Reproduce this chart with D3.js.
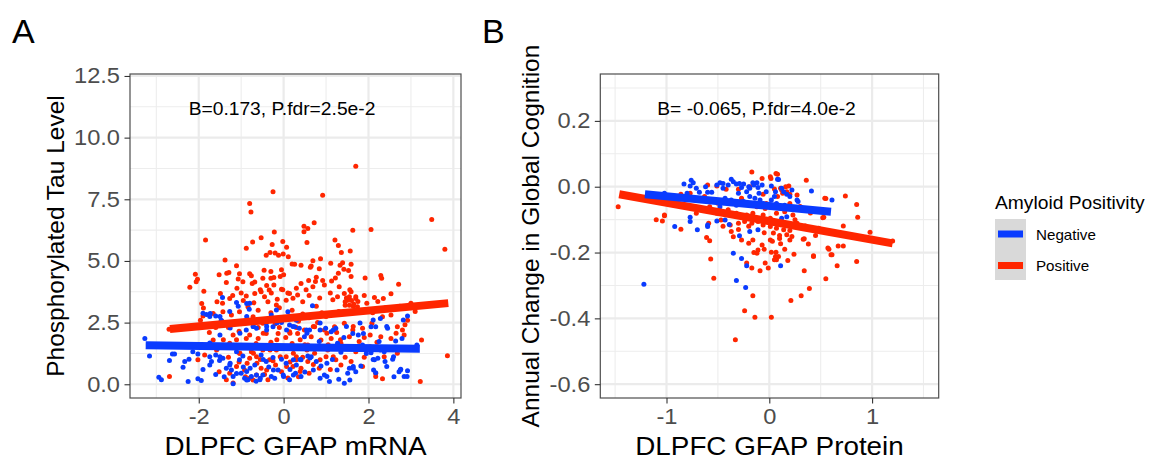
<!DOCTYPE html>
<html>
<head>
<meta charset="utf-8">
<script src="https://cdn.jsdelivr.net/npm/d3@7"></script>
<style>
body { margin: 0; background: #fff; }
text { font-family: "Liberation Sans", Arial, sans-serif; }
</style>
</head>
<body>
<div id="chart-area"></div>
<script>
// ---- data ----
var groups = ["Negative", "Positive"];

// Panel A: DLPFC GFAP mRNA vs phosphorylated tau
var aNegative = [
	[-3.27,1.86],[-3.16,1.15],[-2.94,0.28],[-2.88,0.18],[-2.69,0.96],[-2.62,1.23],[-2.57,1.23],[-2.37,0.69],[-2.33,0.92],[-2.23,1.01],
	[-2.25,0.11],[-2.14,1.32],[-2.02,1.23],[-2.02,0.22],[-1.94,0.15],[-1.74,1.12],[-1.74,0.78],[-1.82,2.83],[-1.73,2.87],[-1.6,2.77],
	[-1.47,2.6],[-1.33,2.5],[-1.27,2.4],[-1.7,0.92],[-1.6,1.19],[-1.51,0.96],[-1.43,1.05],[-1.35,0.65],[-1.27,0.78],[-1.23,0.58],
	[-1.19,0.31],[-1.04,0.99],[-1.0,0.45],[-0.92,0.24],[-0.84,0.18],[-0.76,0.31],[-0.68,0.78],[-0.56,0.18],[-0.49,0.38],[-0.41,0.92],
	[-0.29,0.31],[-0.21,0.24],[-0.13,0.58],[-0.01,0.38],[0.14,0.18],[0.28,0.45],[-0.96,1.15],[-1.11,1.32],[-1.35,1.52],[-1.55,1.46],
	[-0.53,1.19],[-0.25,1.09],[-0.05,1.01],[0.06,0.85],[-0.88,2.2],[-0.64,2.27],[-0.41,2.47],[-0.25,2.33],[-0.05,2.5],[0.14,2.4],
	[0.3,2.6],[-0.29,2.81],[-0.17,3.01],[0.1,2.94],[-0.8,3.28],[-0.81,3.04],[0.41,0.31],[0.65,1.12],[0.77,0.92],[0.96,0.38],
	[1.08,0.11],[1.43,0.04],[1.51,0.45],[1.55,0.65],[1.7,0.51],[1.82,0.74],[2.14,0.99],[2.22,1.05],[2.12,0.58],[2.17,0.47],
	[2.39,0.92],[2.57,1.01],[2.72,0.51],[2.76,0.61],[2.84,0.31],[2.92,0.55],[3.14,1.59],[2.92,2.77],[2.79,1.86],[2.64,1.75],
	[2.45,2.27],[2.28,2.67],[2.17,2.33],[2.06,2.33],[1.88,2.06],[1.76,2.0],[1.63,2.06],[1.42,1.9],[1.23,2.27],[1.12,2.13],
	[0.99,2.27],[0.61,2.2],[0.49,1.93],[0.37,2.27],[0.26,2.33],[0.84,1.73],[1.27,1.66],[1.86,1.59],[2.25,1.73],[2.06,1.28],
	[2.37,1.32],[0.88,0.74],[0.57,1.15],[0.41,0.99],[0.3,0.78],[0.68,3.18],[-1.44,3.52],[-1.11,3.32],[-0.87,3.27],[-1.5,2.0],
	[-1.26,2.28],[-1.03,2.07],[-0.71,2.34],[-0.4,2.2],[0.55,2.07],[0.86,2.2],[0.23,0.99],[0.62,1.06],[1.02,0.85],[1.26,0.58],
	[1.64,0.65],[-0.87,0.52],[-0.55,0.24],[0.23,0.38],[0.86,0.24],[1.56,0.17],[-1.19,0.02],[-0.65,0.12],[1.3,0.2],[2.6,0.3],
	[-1.74,1.67],[-1.5,1.12],[-1.26,0.85],[-1.11,0.44],[-0.87,0.17],[-0.64,0.38],[-0.79,0.65],[-0.48,1.0],[-0.24,0.58],[0.0,0.31],
	[0.39,1.0],[0.7,0.58],[1.02,0.31],[1.64,0.72],[2.11,1.0],[2.43,0.72],[2.75,0.58],[2.91,0.31],[2.59,1.12],[2.28,1.39],
	[-1.9,2.88],[-1.74,2.75],[-1.5,2.75],[-1.27,2.95],[-1.07,3.16],[-0.87,2.75],[-0.72,2.34],[-0.56,2.61],[-0.4,2.34],[-0.16,2.48],
	[0.07,2.2],[0.22,2.34],[0.54,2.2],[0.86,2.48],[1.17,2.2],[1.48,2.34],[1.8,2.48],[2.11,2.61],[2.43,2.34],[2.82,2.61],
	[-1.9,0.6],[-1.6,0.4],[-1.4,0.3],[-0.95,0.7],[-0.35,0.7],[0.15,0.6],[0.5,0.5],[1.15,1.0],[1.35,1.3],[1.95,1.25]
];
var aPositive = [
	[-0.25,7.81],[-0.8,7.33],[-0.77,6.98],[-1.84,5.85],[-0.22,6.17],[-0.53,5.94],[-0.73,5.77],[-0.88,5.51],[-0.27,5.67],[-0.02,5.79],
	[0.07,5.56],[-0.41,5.23],[-0.32,5.34],[-0.2,5.32],[-0.12,5.23],[-0.01,5.28],[0.11,5.17],[0.2,4.88],[-1.38,5.04],[-1.11,4.81],
	[-2.08,4.46],[-2.03,4.26],[-1.52,4.44],[-1.34,4.5],[-1.29,4.53],[-1.04,4.48],[-1.07,4.27],[-0.8,4.48],[-0.76,4.4],[-0.46,4.62],
	[-0.49,4.3],[-0.3,4.57],[-0.3,4.3],[-0.23,4.33],[-0.08,4.37],[0.0,4.44],[-0.05,4.64],[-1.35,4.13],[-0.68,4.15],
	[1.7,8.84],[0.92,7.66],[3.49,6.68],[3.8,5.47],[2.06,6.28],[1.63,6.24],[0.48,6.41],[0.57,6.32],[0.48,6.18],[0.72,6.55],
	[0.55,5.75],[1.21,5.85],[1.29,5.63],[1.36,5.34],[1.57,5.4],[0.69,5.01],[0.87,5.09],[0.65,4.8],[0.63,4.74],[0.84,4.68],
	[0.41,4.83],[0.26,4.87],[1.11,4.91],[1.33,4.83],[1.39,4.93],[1.42,4.66],[1.59,4.87],[1.53,4.61],[1.29,4.5],[1.59,4.37],
	[1.22,4.31],[1.92,4.31],[2.29,4.41],[2.31,4.3],[0.59,4.21],[0.77,4.34],[0.75,4.17],[0.92,4.21],[1.13,4.19],[2.71,4.06],
	[-2.21,3.93],[-2.06,4.16],[-1.49,3.68],[-1.57,3.35],[-1.44,3.28],[-1.27,3.48],[-1.1,3.89],[-0.96,4.16],[-0.88,3.58],[-0.74,4.09],
	[-0.68,3.68],[-0.53,3.75],[-0.34,3.82],[-0.23,4.02],[-0.05,3.85],[0.14,3.68],[0.3,3.89],[-0.37,3.35],[-0.17,3.21],[0.06,3.41],
	[-0.84,3.14],[-1.04,2.94],[-1.23,2.81],[-1.43,2.94],[-1.66,2.87],[-1.9,2.77],[-1.96,2.6],[-1.99,2.4],[-2.7,2.23],[-2.69,0.31],
	[-2.02,0.99],[-1.86,1.19],[-1.52,0.51],[-1.35,0.18],[-1.27,0.45],[-1.11,0.72],[-0.92,0.58],[-0.86,0.85],[-0.8,0.24],[-0.64,0.38],
	[-0.53,0.65],[-0.37,0.18],[-0.33,0.99],[-0.19,0.78],[-0.05,0.51],[0.06,1.12],[0.22,0.72],[0.3,0.99],[-1.04,1.26],[-0.76,1.32],
	[-0.64,1.12],[-0.49,1.39],[-0.17,1.39],[-0.01,1.52],[-1.51,1.52],[-1.27,1.66],[-0.88,1.86],[-0.6,1.86],[-0.41,2.06],[-0.13,2.06],
	[0.14,2.13],[-1.19,2.0],[-1.66,1.79],[-0.49,2.47],[-0.05,2.6],[-0.72,2.74],[0.33,3.62],[0.41,4.09],[0.69,3.95],[0.96,4.02],
	[1.31,3.95],[1.43,3.68],[1.59,3.75],[1.7,3.48],[1.51,3.41],[1.27,3.55],[2.35,3.48],[2.14,3.52],[1.96,3.28],[1.74,3.14],
	[2.53,2.81],[3.0,3.28],[2.92,2.6],[2.68,2.33],[2.33,2.74],[2.08,2.47],[1.86,2.27],[1.63,2.2],[1.43,2.47],[1.2,2.33],
	[0.96,2.2],[0.73,2.33],[0.49,2.2],[0.33,2.06],[0.65,1.93],[0.88,1.79],[1.12,1.86],[1.35,1.66],[1.55,1.93],[1.78,1.73],
	[2.04,2.0],[2.29,1.93],[2.53,1.86],[2.8,2.2],[2.84,2.0],[3.25,1.79],[3.86,1.16],[3.22,0.11],[2.33,0.22],[2.17,0.31],
	[2.17,0.45],[1.23,0.99],[1.35,0.78],[1.59,0.92],[1.86,0.72],[1.0,1.12],[0.73,1.26],[0.57,0.92],[0.41,0.65],[0.3,1.12],
	[0.84,0.65],[1.04,1.39],[1.7,1.32],[2.04,1.52],[2.37,1.12],[2.68,1.26],[0.57,1.59],[2.53,3.67],[2.22,3.36],[2.74,3.16],
	[3.1,2.95],[2.86,2.41],[2.65,2.07],[-0.55,3.83],[-0.29,3.7],[-0.02,3.83],[0.22,3.49],[0.53,3.83],[0.77,3.16],[1.16,3.43],
	[1.56,3.83],[1.64,3.16],[1.48,3.5],[1.75,3.36],[-0.48,2.07],[-0.16,1.8],[0.15,2.07],[0.39,1.8],[0.7,2.34],[1.02,2.07],
	[1.34,1.8],[1.64,2.34],[-0.08,1.12],[0.23,1.26],[0.55,1.39],[0.86,0.99],[1.17,1.12],[-0.32,1.39],[-0.71,1.26],[-0.63,0.85],
	[-0.4,0.58],[0.07,0.72],[0.39,0.52],[-1.11,1.8],[-0.87,1.53],[-1.03,1.26],[-1.42,1.8],[-1.58,1.39],[-1.19,0.05],[-0.72,0.17],
	[0.35,0.3],[-1.93,3.27],[-1.89,3.09],[-1.88,3.77],[-0.6,3.0],[-0.3,2.9],[-0.1,3.1],[0.2,3.0],[0.45,2.85],[-0.9,2.55],
	[-0.2,2.45],[0.35,2.55],[0.6,2.7],[1.0,2.75],[1.3,2.95],[1.8,2.95],[2.1,2.9],
	[-1.2,3.6],[-0.95,3.4],[-0.7,3.3],[-0.45,3.55],[-0.15,3.45],[0.1,3.7],[0.45,3.35],[0.85,3.5],[1.1,3.7],[1.45,3.2],
	[1.9,3.6],[2.4,3.1],[-1.3,2.3],[-1.05,2.15],[-0.8,2.0],[-0.6,2.3],[-0.35,2.6],[-0.1,2.3],[0.05,1.9],[0.3,2.3],
	[0.5,1.6],[0.8,2.5],[1.05,1.6],[1.25,2.1],[1.5,1.5],[1.9,1.9],[2.2,1.7],[-1.3,1.1],[-1.05,0.9],[-0.8,1.05],
	[-0.55,1.0],[-0.25,0.95],[0.15,0.9],[0.45,1.1],[0.7,0.8],[1.1,0.6],[1.45,1.1],[1.9,1.1],[-0.9,0.3],[-0.45,0.4],
	[0.1,0.25],[0.6,0.45],[-1.6,2.3],[-1.75,2.1],[-1.45,2.55],[1.55,3.55],[1.6,3.4],[1.65,3.25],[1.55,3.2],[1.7,3.55],
	[1.45,3.35],[-0.65,1.65],[-0.3,1.7],[0.2,1.65],[0.75,1.5],[1.2,1.45],[-1.0,3.7],[-0.4,4.0],[0.6,3.6],[0.9,2.9]
];
var aFitNegative = [[-3.25, 1.58], [3.21, 1.44]];
var aFitPositive = [[-2.68, 2.24], [3.88, 3.29]];

// Panel B: DLPFC GFAP protein vs annual change in global cognition
var bNegative = [
	[-0.83,0.008],[-0.76,0.02],[-0.74,0.012],[-0.77,0.002],[-0.71,-0.005],[-0.68,-0.017],[-0.6,-0.017],[-0.56,-0.017],[-0.51,0.005],[-0.48,0.012],
	[-0.45,-0.005],[-0.4,0.005],[-0.37,0.023],[-0.35,0.015],[-0.32,0.008],[-0.29,0.01],[-0.27,-0.002],[-0.25,0.008],[-0.22,-0.015],[-0.19,-0.005],
	[-0.16,0.012],[-0.15,0.005],[-0.12,0.012],[-0.11,-0.002],[-0.07,0.005],[-0.03,-0.015],[0.02,0.002],[0.06,-0.015],[0.09,0.022],[0.12,-0.005],
	[0.14,-0.015],[0.17,-0.023],[0.2,-0.03],[0.27,-0.04],[0.28,-0.045],[0.2,-0.061],[0.15,-0.056],[0.07,-0.051],[0.02,-0.04],[-0.06,-0.051],
	[-0.09,-0.04],[-0.14,-0.035],[-0.19,-0.03],[-0.25,-0.045],[-0.32,-0.056],[-0.37,-0.04],[-0.43,-0.035],[-0.48,-0.061],[-0.43,-0.101],[-0.51,-0.104],
	[-0.6,-0.116],[-0.6,-0.121],[-0.7,-0.131],[-0.77,-0.093],[-0.77,-0.106],[-0.92,-0.121],[-1.02,-0.02],[0.41,-0.013],[0.61,-0.04],[-0.29,-0.149],
	[-0.35,-0.202],[-0.27,-0.218],[-0.22,-0.24],[0.11,-0.24],[-0.32,-0.285],[-0.23,-0.306],[-1.22,-0.296],[-0.39,-0.115],[-0.19,-0.136],[-0.11,-0.131],
	[0.17,-0.091],[0.12,-0.096],[0.08,0.023],[-0.3,-0.02],[-0.2,0.0],[-0.45,0.01],[-0.55,-0.04],[-0.1,-0.02],[0.05,-0.03],[-0.62,0.0],
	[0.22,-0.01],[-0.8,-0.02]
];
var bPositive = [
	[-1.47,-0.061],[-0.86,-0.023],[-1.02,-0.086],[-1.04,-0.104],[-0.86,-0.129],[-0.61,-0.154],[-0.58,-0.164],[-0.57,-0.22],[-0.54,-0.278],[-0.33,-0.465],
	[-0.24,-0.377],[-0.14,-0.397],[0.02,-0.397],[-0.16,-0.331],[-0.04,-0.232],[-0.01,-0.247],[-0.09,-0.255],[-0.17,-0.247],[-0.22,-0.232],[0.21,-0.346],
	[0.31,-0.331],[0.39,-0.309],[0.34,-0.255],[0.24,-0.205],[0.18,-0.224],[0.06,-0.212],[0.07,-0.222],[0.02,-0.199],[-0.12,-0.202],[-0.11,-0.192],
	[-0.35,-0.152],[-0.27,-0.162],[-0.2,-0.172],[-0.16,-0.162],[-0.07,-0.177],[0.01,-0.162],[0.1,-0.157],[0.2,-0.162],[0.33,-0.16],[0.38,-0.174],
	[0.43,-0.212],[0.58,-0.19],[0.61,-0.207],[0.66,-0.24],[0.55,-0.28],[0.67,-0.18],[0.72,-0.18],[0.85,-0.227],[0.98,-0.138],[1.2,-0.165],
	[0.86,-0.093],[0.85,-0.054],[0.74,-0.028],[0.55,-0.036],[0.53,-0.093],[0.72,-0.119],[0.48,-0.126],[0.35,-0.119],[0.27,-0.111],[0.2,-0.133],
	[0.14,-0.131],[0.07,-0.126],[0.01,-0.121],[-0.06,-0.116],[-0.11,-0.106],[-0.17,-0.111],[-0.24,-0.106],[-0.3,-0.111],[-0.37,-0.136],[-0.38,-0.116],
	[-0.47,-0.101],[-0.51,-0.081],[-0.58,-0.061],[-0.63,-0.03],[-0.71,-0.038],[-0.77,-0.02],[-0.6,0.005],[-0.51,0.002],[-0.42,-0.008],[-0.3,-0.008],
	[-0.19,0.0],[-0.17,0.045],[-0.07,0.025],[0.01,0.03],[0.08,0.038],[0.12,-0.01],[0.19,0.002],[0.2,-0.023],[0.36,0.02],[0.08,-0.03],
	[-0.06,-0.023],[-0.04,-0.066],[0.07,-0.081],[0.15,-0.076],[0.23,-0.086],[0.2,-0.051],[0.27,-0.025],[-0.32,-0.081],[-0.22,-0.086],[-0.16,-0.081],
	[-0.06,-0.086],[0.01,-0.096],[-0.27,-0.035],[-0.22,-0.051],[-0.12,-0.061],[-0.03,-0.051],[-0.71,-0.081],[-0.59,-0.111],[0.065,0.04],[0.016,0.025],
	[0.16,0.0],[0.11,-0.005],[0.05,-0.007],[0.13,-0.02],[0.17,-0.015],[0.54,-0.035],[0.52,-0.094],[0.22,-0.151],[0.17,-0.146],[0.1,-0.148],
	[0.04,-0.141],[0.11,-0.173],[0.03,-0.166],[0.065,-0.199],[0.09,-0.212],[0.05,-0.222],[0.34,-0.158],[0.45,-0.148],[0.57,-0.186],[0.6,-0.207],
	[0.43,-0.21],[-1.02,-0.088],[-0.25,-0.09],[-0.1,-0.1],[0.05,-0.11],[-0.2,-0.12],[-0.05,-0.14],[0.12,-0.115],[-0.3,-0.13],[0.25,-0.1],
	[-0.15,-0.2],[-0.05,-0.19],[0.15,-0.19],[-0.45,-0.12],[-0.5,-0.05],[-0.4,-0.07],[0.3,-0.06],[0.4,-0.08],[-1.1,-0.1],[-0.95,-0.045]
];
var bFitNegative = [[-1.21, -0.023], [0.6, -0.076]];
var bFitPositive = [[-1.46, -0.023], [1.2, -0.172]];

// axis breaks
var aXTicks = [-2, 0, 2, 4], aXMinor = [-3, -1, 1, 3];
var aYTicks = [0, 2.5, 5, 7.5, 10, 12.5], aYMinor = [1.25, 3.75, 6.25, 8.75, 11.25];
var bXTicks = [-1, 0, 1], bXMinor = [-1.5, -0.5, 0.5, 1.5];
var bYTicks = [-0.6, -0.4, -0.2, 0, 0.2], bYMinor = [-0.5, -0.3, -0.1, 0.1, 0.3];

// ---- drawing ----
var width = 1150, height = 459;
var stretch = 1.1; // horizontal text stretch of the original figure
var color = d3.scaleOrdinal().domain(groups).range(["#0a3bff", "#ff2600"]);

var svg = d3.select("#chart-area")
	.append("svg")
	.attr("width", width)
	.attr("height", height);

function hText(parent, x, y, str, size, anchor, fill) {
	return parent.append("text")
		.attr("transform", "translate(" + x + "," + y + ") scale(" + stretch + ",1)")
		.attr("text-anchor", anchor)
		.attr("font-size", size + "px")
		.attr("fill", fill || "black")
		.text(str);
}

var panels = [
	{
		letter: "A", letterX: 12,
		left: 130, right: 461, top: 74, bottom: 398,
		xDomain: [-3.62, 4.18], yDomain: [-0.557, 12.58],
		xTicks: aXTicks, xMinor: aXMinor, yTicks: aYTicks, yMinor: aYMinor,
		neg: aNegative, pos: aPositive, negFit: aFitNegative, posFit: aFitPositive,
		note: "B=0.173, P.fdr=2.5e-2", noteX: 282,
		xTitle: "DLPFC GFAP mRNA", yTitle: "Phosphorylated Tau Level", yTitleX: 64
	},
	{
		letter: "B", letterX: 482,
		left: 600.3, right: 938.7, top: 74, bottom: 398,
		xDomain: [-1.644, 1.648], yDomain: [-0.642, 0.3425],
		xTicks: bXTicks, xMinor: bXMinor, yTicks: bYTicks, yMinor: bYMinor,
		neg: bNegative, pos: bPositive, negFit: bFitNegative, posFit: bFitPositive,
		note: "B= -0.065, P.fdr=4.0e-2", noteX: 756.5,
		xTitle: "DLPFC GFAP Protein", yTitle: "Annual Change in Global Cognition", yTitleX: 539
	}
];

panels.forEach(function (p) {
	var x = d3.scaleLinear().domain(p.xDomain).range([p.left, p.right]);
	var y = d3.scaleLinear().domain(p.yDomain).range([p.bottom, p.top]);
	var g = svg.append("g");

	g.append("rect")
		.attr("x", p.left).attr("y", p.top)
		.attr("width", p.right - p.left).attr("height", p.bottom - p.top)
		.attr("fill", "white");

	// grid
	g.selectAll(".vminor").data(p.xMinor).enter().append("line")
		.attr("x1", d => x(d)).attr("x2", d => x(d))
		.attr("y1", p.top).attr("y2", p.bottom)
		.attr("stroke", "#ededed").attr("stroke-width", 1.1);
	g.selectAll(".hminor").data(p.yMinor).enter().append("line")
		.attr("y1", d => y(d)).attr("y2", d => y(d))
		.attr("x1", p.left).attr("x2", p.right)
		.attr("stroke", "#ededed").attr("stroke-width", 1.1);
	g.selectAll(".vmajor").data(p.xTicks).enter().append("line")
		.attr("x1", d => x(d)).attr("x2", d => x(d))
		.attr("y1", p.top).attr("y2", p.bottom)
		.attr("stroke", "#ebebeb").attr("stroke-width", 2.2);
	g.selectAll(".hmajor").data(p.yTicks).enter().append("line")
		.attr("y1", d => y(d)).attr("y2", d => y(d))
		.attr("x1", p.left).attr("x2", p.right)
		.attr("stroke", "#ebebeb").attr("stroke-width", 2.2);

	// points
	g.selectAll(".pos").data(p.pos).enter().append("circle")
		.attr("cx", d => x(d[0])).attr("cy", d => y(d[1]))
		.attr("r", 2.5).attr("fill", color("Positive"));
	g.selectAll(".neg").data(p.neg).enter().append("circle")
		.attr("cx", d => x(d[0])).attr("cy", d => y(d[1]))
		.attr("r", 2.5).attr("fill", color("Negative"));

	// fitted lines
	var line = d3.line().x(d => x(d[0])).y(d => y(d[1]));
	g.append("path").attr("d", line(p.posFit))
		.attr("fill", "none").attr("stroke", color("Positive")).attr("stroke-width", 8);
	g.append("path").attr("d", line(p.negFit))
		.attr("fill", "none").attr("stroke", color("Negative")).attr("stroke-width", 8);

	// border
	g.append("rect")
		.attr("x", p.left).attr("y", p.top)
		.attr("width", p.right - p.left).attr("height", p.bottom - p.top)
		.attr("fill", "none").attr("stroke", "#4d4d4d").attr("stroke-width", 1.2);

	// axes
	var xAxisG = g.append("g")
		.attr("transform", "translate(0," + p.bottom + ")")
		.call(d3.axisBottom(x).tickValues(p.xTicks).tickSize(5.5).tickPadding(5.5).tickFormat(d => String(d)));
	var yAxisG = g.append("g")
		.attr("transform", "translate(" + p.left + ",0)")
		.call(d3.axisLeft(y).tickValues(p.yTicks).tickSize(5.5).tickPadding(4.5).tickFormat(d => d.toFixed(1)));
	[xAxisG, yAxisG].forEach(function (ax) {
		ax.select(".domain").remove();
		ax.selectAll(".tick line").attr("stroke", "#333").attr("stroke-width", 1.1);
		ax.selectAll(".tick text")
			.attr("fill", "#4d4d4d")
			.attr("font-size", "21.5px")
			.attr("font-family", "'Liberation Sans', Arial, sans-serif");
	});
	yAxisG.selectAll(".tick text")
		.attr("x", -10 / stretch)
		.attr("transform", "scale(" + stretch + ",1)");
	xAxisG.selectAll(".tick text")
		.attr("transform", "scale(" + stretch + ",1)");

	// titles
	hText(svg, (p.left + p.right) / 2, 454.5, p.xTitle, 25.3, "middle");
	svg.append("text")
		.attr("transform", "translate(" + p.yTitleX + "," + ((p.top + p.bottom) / 2) + ") rotate(-90)")
		.attr("text-anchor", "middle")
		.attr("font-size", "24.5px")
		.attr("fill", "black")
		.text(p.yTitle);
	hText(svg, p.noteX, 115, p.note, 17.5, "middle");
	svg.append("text")
		.attr("x", p.letterX).attr("y", 43)
		.attr("font-size", "34px")
		.attr("fill", "black")
		.text(p.letter);
});

// legend
var legend = svg.append("g");
hText(legend, 995, 209, "Amyloid Positivity", 17.5, "start");
legend.append("rect")
	.attr("x", 995).attr("y", 219).attr("width", 31).attr("height", 61)
	.attr("fill", "#d9d9d9");
groups.forEach(function (gname, i) {
	var cy = 234 + i * 31.5;
	legend.append("line")
		.attr("x1", 998).attr("x2", 1023).attr("y1", cy).attr("y2", cy)
		.attr("stroke", color(gname)).attr("stroke-width", 7);
	hText(legend, 1036, cy + 5.5, gname, 13.8, "start");
});
</script>
</body>
</html>
